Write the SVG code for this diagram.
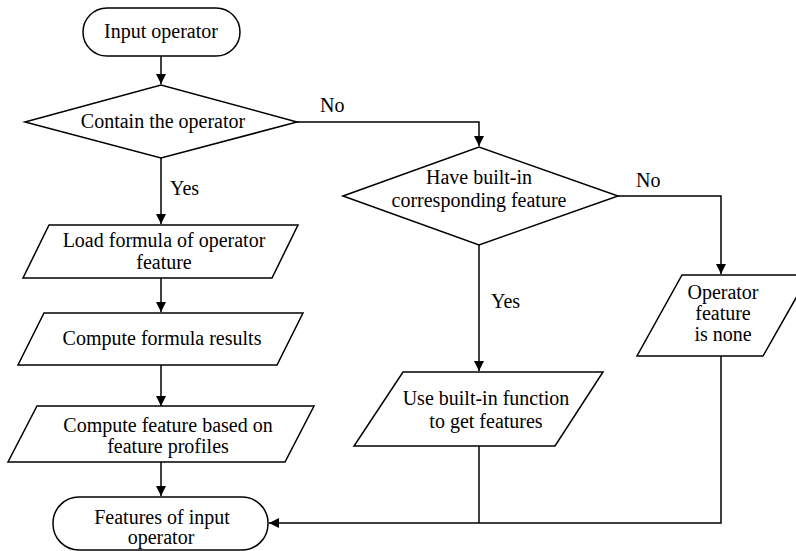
<svg xmlns="http://www.w3.org/2000/svg" width="796" height="551" viewBox="0 0 796 551">
<style>
.s{fill:#fff;stroke:#000;stroke-width:1.5}
.c{fill:none;stroke:#000;stroke-width:1.5}
text{font-family:"Liberation Serif","Times New Roman",serif;font-size:20px;fill:#000}
.m{text-anchor:middle}
</style>
<defs>
<marker id="ah" markerWidth="10" markerHeight="10" refX="10" refY="5" orient="auto" markerUnits="userSpaceOnUse">
<path d="M0,0 L10,5 L0,10 Z" fill="#000"/>
</marker>
</defs>
<rect width="796" height="551" fill="#fff"/>
<g id="connectors">
<path class="c" d="M161,56 V84" marker-end="url(#ah)"/>
<path class="c" d="M161,158 V224" marker-end="url(#ah)"/>
<path class="c" d="M161,278 V312" marker-end="url(#ah)"/>
<path class="c" d="M161,365 V406" marker-end="url(#ah)"/>
<path class="c" d="M161,462 V496" marker-end="url(#ah)"/>
<path class="c" d="M297,122 H479 V146" marker-end="url(#ah)"/>
<path class="c" d="M479,245 V371" marker-end="url(#ah)"/>
<path class="c" d="M618,196 H721 V274" marker-end="url(#ah)"/>
<path class="c" d="M479,446 V523"/>
<path class="c" d="M721,356 V523 H269" marker-end="url(#ah)"/>
<text x="320" y="112">No</text>
<text x="170" y="195">Yes</text>
<text x="636" y="187">No</text>
<text x="491" y="308">Yes</text>
</g>
<g id="start">
<rect class="s" x="83" y="8" width="157" height="48" rx="24"/>
<text class="m" x="161" y="38">Input operator</text>
</g>
<g id="contain">
<polygon class="s" points="25,122 161,85 297,122 161,158"/>
<text class="m" x="163" y="128">Contain the operator</text>
</g>
<g id="load">
<polygon class="s" points="49,225 298,225 272,278 23,278"/>
<text class="m" x="164" y="247">Load formula of operator</text>
<text class="m" x="164" y="269">feature</text>
</g>
<g id="computeFormula">
<polygon class="s" points="44,313 303,313 277,365 18,365"/>
<text class="m" x="162" y="345">Compute formula results</text>
</g>
<g id="computeFeature">
<polygon class="s" points="37,406 314,406 285,462 8,462"/>
<text class="m" x="168" y="432">Compute feature based on</text>
<text class="m" x="168" y="453">feature profiles</text>
</g>
<g id="end">
<rect class="s" x="53" y="497" width="215" height="53" rx="26"/>
<text class="m" x="162" y="524">Features of input</text>
<text class="m" x="161" y="544">operator</text>
</g>
<g id="builtinDecision">
<polygon class="s" points="343,196 479,147 618,196 479,245"/>
<text class="m" x="479" y="184">Have built-in</text>
<text class="m" x="479" y="207">corresponding feature</text>
</g>
<g id="useBuiltin">
<polygon class="s" points="403,372 603,372 555,446 354,446"/>
<text class="m" x="486" y="405">Use built-in function</text>
<text class="m" x="486" y="428">to get features</text>
</g>
<g id="none">
<polygon class="s" points="682,275 809,275 763,356 637,356"/>
<text class="m" x="723" y="299">Operator</text>
<text class="m" x="723" y="320">feature</text>
<text class="m" x="723" y="341">is none</text>
</g>
</svg>
